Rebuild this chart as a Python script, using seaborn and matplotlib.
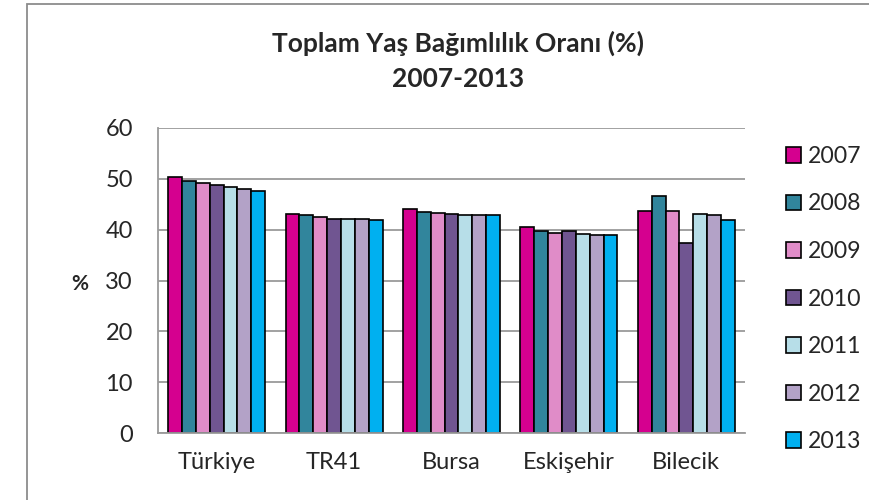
import matplotlib
matplotlib.use("Agg")
import matplotlib.pyplot as plt
import matplotlib.patches as mpatches
from matplotlib.ticker import FixedLocator
import seaborn as sns
import pandas as pd

regions = ["Türkiye", "TR41", "Bursa", "Eskişehir", "Bilecik"]
years = ["2007", "2008", "2009", "2010", "2011", "2012", "2013"]
v2007 = [50.3, 43.1, 44.0, 40.5, 43.7]
v2008 = [49.5, 42.9, 43.5, 39.8, 46.6]
v2009 = [49.1, 42.5, 43.3, 39.4, 43.7]
v2010 = [48.8, 42.1, 43.1, 39.7, 37.4]
v2011 = [48.3, 42.1, 42.9, 39.1, 43.0]
v2012 = [48.0, 42.1, 42.9, 39.0, 42.8]
v2013 = [47.6, 42.0, 42.9, 39.0, 41.9]
colors = ["#D5008F", "#31859C", "#E08CC8", "#705591", "#B7DEE8", "#B3A2C7", "#00B0F0"]

series = [v2007, v2008, v2009, v2010, v2011, v2012, v2013]
rows = []
for y, vals in zip(years, series):
    for r, v in zip(regions, vals):
        rows.append({"region": r, "year": y, "value": v})
df = pd.DataFrame(rows)

sns.set_style("white")
plt.rcParams["font.family"] = ["Lato", "DejaVu Sans"]

fig = plt.figure(figsize=(8.69, 5.0), dpi=100)
ax = fig.add_axes([158/869, 1-433/500, (745-158)/869, (433-128)/500])

sns.barplot(data=df, x="region", y="value", hue="year", order=regions,
            hue_order=years, palette=colors, edgecolor="black", linewidth=1.2,
            width=0.826, saturation=1, legend=False, ax=ax, errorbar=None)

ax.set_ylim(0, 60)
ax.set_xlim(-0.5, 4.5)
ax.set_yticks([0, 10, 20, 30, 40, 50, 60])
ax.yaxis.grid(True, color="#9a9a9a", linewidth=1.3)
ax.set_axisbelow(True)
for s in ["top", "right"]:
    ax.spines[s].set_visible(False)
for s in ["left", "bottom"]:
    ax.spines[s].set_color("#9a9a9a")
    ax.spines[s].set_linewidth(1.3)
ax.tick_params(axis="y", direction="out", length=6, color="#9a9a9a", width=1.3,
               labelsize=17, pad=12)
ax.tick_params(axis="x", which="major", length=0, labelsize=17, pad=14)
ax.xaxis.set_minor_locator(FixedLocator([-0.5, 0.5, 1.5, 2.5, 3.5, 4.5]))
ax.tick_params(axis="x", which="minor", direction="out", length=6, color="#9a9a9a", width=1.3)
ax.set_xlabel("")
ax.set_ylabel("")

fig.text(80/869, 1-284/500, "%", fontsize=15, fontweight="bold", ha="center", va="center")
fig.text(458/869, 1-43/500, "Toplam Yaş Bağımlılık Oranı (%)", fontsize=19,
         fontweight="bold", ha="center", va="center")
fig.text(458/869, 1-79/500, "2007-2013", fontsize=19,
         fontweight="bold", ha="center", va="center")

handles = [mpatches.Patch(facecolor=c, edgecolor="black", linewidth=1.2, label=y)
           for c, y in zip(colors, years)]
fig.legend(handles=handles, loc="center left", bbox_to_anchor=(786/869, 1-299/500),
           frameon=False, fontsize=16.6, handlelength=0.65, handleheight=0.65,
           handletextpad=0.3, labelspacing=1.15, borderaxespad=0, borderpad=0)

border = mpatches.Rectangle((27/869, -0.5/500), (900-27)/869, (496+0.5)/500,
                            transform=fig.transFigure, fill=False,
                            edgecolor="#8c8c8c", linewidth=1.3)
fig.patches.append(border)

fig.savefig("out.png", dpi=100)
